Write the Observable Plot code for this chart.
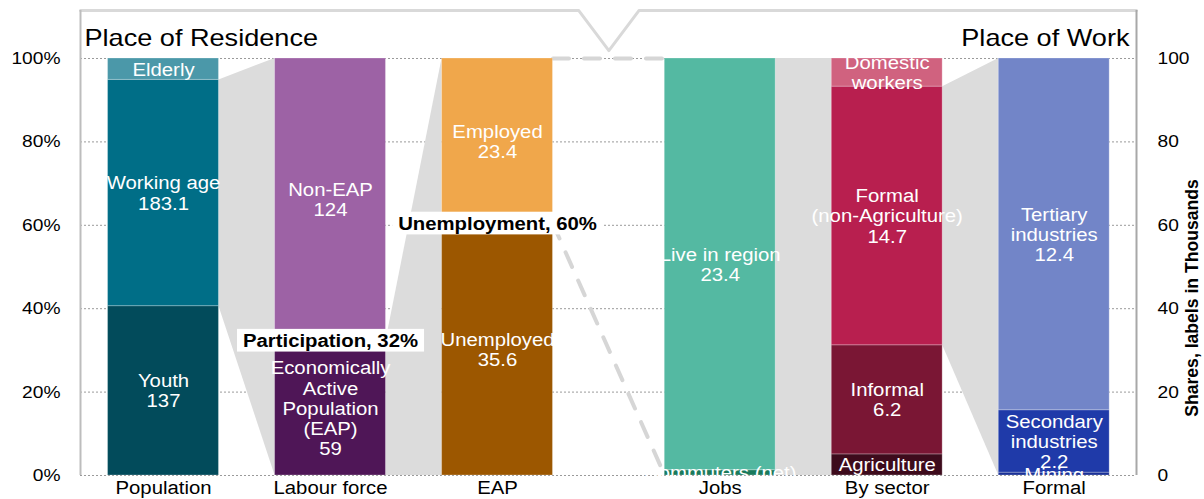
<!DOCTYPE html>
<html><head><meta charset="utf-8">
<script src="https://cdn.jsdelivr.net/npm/d3@7"></script>
<script src="https://cdn.jsdelivr.net/npm/@observablehq/plot@0.6"></script>
<style>
body{margin:0;background:#fff;}
</style></head><body><div id="chart"></div>
<script>
// ---------- data ----------
const categories = ["Population", "Labour force", "EAP", "Jobs", "By sector", "Formal"];

const populationLabels = ["Youth", "Working age", "Elderly"];
const populationValues = [137, 183.1, 17.3];
const populationShowValue = [true, true, false];
const populationColors = ["#024b5b", "#006e87", "#4b98a9"];

const labourLabels = ["Economically\nActive\nPopulation\n(EAP)", "Non-EAP"];
const labourValues = [59, 124];
const labourShowValue = [true, true];
const labourColors = ["#4f1657", "#9d62a5"];

const eapLabels = ["Unemployed", "Employed"];
const eapValues = [35.6, 23.4];
const eapShowValue = [true, true];
const eapColors = ["#9c5700", "#f0a74b"];

const jobsLabels = ["Commuters (net)", "Live in region"];
const jobsValues = [0.3, 23.4];
const jobsShowValue = [false, true];
const jobsColors = ["#1a7a5c", "#54b9a2"];

const sectorLabels = ["Agriculture", "Informal", "Formal\n(non-Agriculture)", "Domestic\nworkers"];
const sectorValues = [1.2, 6.2, 14.7, 1.6];
const sectorShowValue = [false, true, true, false];
const sectorColors = ["#3d0b1c", "#7a1634", "#b81f4f", "#d0627f"];

const formalLabels = ["Mining", "Secondary\nindustries", "Tertiary\nindustries"];
const formalValues = [0.1, 2.2, 12.4];
const formalShowValue = [false, true, true];
const formalColors = ["#1a3096", "#1f3aa9", "#7285c8"];

const yTicks = [0, 0.2, 0.4, 0.6, 0.8, 1];
const rightTickLabels = ["0", "20", "40", "60", "80", "100"];
const titleLeft = "Place of Residence";
const titleRight = "Place of Work";
const rightAxisTitle = "Shares, labels in Thousands";
const participationText = "Participation, 32%";
const unemploymentText = "Unemployment, 60%";

// ---------- layout helpers ----------
const xPos = categories.map((c, i) => i + (i >= 3 ? 1 / 3 : 0));
const half = 0.332;
const groups = [
  {labels: populationLabels, values: populationValues, show: populationShowValue, colors: populationColors},
  {labels: labourLabels, values: labourValues, show: labourShowValue, colors: labourColors},
  {labels: eapLabels, values: eapValues, show: eapShowValue, colors: eapColors},
  {labels: jobsLabels, values: jobsValues, show: jobsShowValue, colors: jobsColors},
  {labels: sectorLabels, values: sectorValues, show: sectorShowValue, colors: sectorColors},
  {labels: formalLabels, values: formalValues, show: formalShowValue, colors: formalColors}
];
const cum = groups.map(g => {
  const t = d3.sum(g.values); let a = 0;
  return [0, ...g.values.map(v => (a += v) / t)];
});
const segs = [];
groups.forEach((g, i) => {
  g.values.forEach((v, j) => {
    segs.push({
      x1: xPos[i] - half, x2: xPos[i] + half, xc: xPos[i],
      y1: cum[i][j], y2: cum[i][j + 1],
      fill: g.colors[j],
      text: g.show[j] ? g.labels[j] + "\n" + v : g.labels[j]
    });
  });
});
const R = i => xPos[i] + half, L = i => xPos[i] - half;
const connectors = [
  [{id: 0, x: R(0), y1: cum[0][1], y2: cum[0][2]}, {id: 0, x: L(1), y1: 0, y2: 1}],
  [{id: 1, x: R(1), y1: 0, y2: cum[1][1]}, {id: 1, x: L(2), y1: 0, y2: 1}],
  [{id: 2, x: R(3), y1: 0, y2: 1}, {id: 2, x: L(4), y1: 0, y2: 1}],
  [{id: 3, x: R(4), y1: cum[4][2], y2: cum[4][3]}, {id: 3, x: L(5), y1: 0, y2: 1}]
].flat();
const dashed = [
  {x1: R(2), y1: 1, x2: L(3), y2: 1},
  {x1: R(2), y1: cum[2][1], x2: L(3), y2: 0}
];
const xDomain = [-0.497, 5.826];
const topY = 1.115, notchY = 1.019;
const mid = (xPos[2] + xPos[3]) / 2;
const frameTop = [
  {x: xDomain[0], y: topY}, {x: mid - 0.18, y: topY}, {x: mid, y: notchY},
  {x: mid + 0.18, y: topY}, {x: xDomain[1], y: topY}
];

const plot = Plot.plot({
  width: 1204, height: 499,
  marginLeft: 80, marginRight: 68, marginTop: 58, marginBottom: 24,
  style: {fontFamily: "'Liberation Sans', Arial, sans-serif", background: "white", overflow: "visible"},
  x: {domain: xDomain, axis: null},
  y: {domain: [0, 1], axis: null},
  marks: [
    Plot.gridY(yTicks, {stroke: "#9a9a9a", strokeOpacity: 1, strokeDasharray: "2,2"}),
    Plot.area(connectors, {x1: "x", y1: "y1", y2: "y2", z: "id", fill: "#dcdcdc", curve: "linear"}),
    Plot.link(dashed, {x1: "x1", y1: "y1", x2: "x2", y2: "y2", stroke: "#d6d6d6", strokeWidth: 4, strokeDasharray: "16,15", strokeLinecap: "round"}),
    Plot.rect(segs, {x1: "x1", x2: "x2", y1: "y1", y2: "y2", fill: "fill", stroke: "white", strokeOpacity: 0.25, strokeWidth: 1}),
    Plot.line(frameTop, {x: "x", y: "y", stroke: "#d9d9d9", strokeWidth: 3, clip: false}),
    Plot.ruleX([xDomain[0]], {y1: 0, y2: topY, stroke: "#bdbdbd", strokeWidth: 2}),
    Plot.ruleX([xDomain[1]], {y1: 0, y2: topY, stroke: "#a8a8a8", strokeWidth: 2}),
    Plot.text(segs, {x: "xc", y: d => (d.y1 + d.y2) / 2, text: "text", fill: "white", fontSize: 18, lineHeight: 1.12}),
    Plot.text([participationText], {x: xPos[1], y: cum[1][1], fontWeight: "bold", fontSize: 18, fill: "black"}),
    Plot.text([unemploymentText], {x: xPos[2], y: cum[2][1], fontWeight: "bold", fontSize: 18, fill: "black"}),
    Plot.axisY(yTicks, {anchor: "left", tickSize: 0, tickPadding: 20, fontSize: 17, tickFormat: d3.format(".0%"), label: null}),
    Plot.axisY(yTicks, {anchor: "right", tickSize: 0, tickPadding: 21, fontSize: 17, tickFormat: d => rightTickLabels[yTicks.indexOf(d)], label: null}),
    Plot.axisX(xPos, {anchor: "bottom", tickSize: 0, tickPadding: 6, fontSize: 18, tickFormat: d => categories[xPos.indexOf(d)], label: null}),
    Plot.text([titleLeft], {frameAnchor: "top-left", dx: 4, dy: -13, lineAnchor: "bottom", fontSize: 24, fill: "black"}),
    Plot.text([titleRight], {frameAnchor: "top-right", dx: -7, dy: -13, lineAnchor: "bottom", textAnchor: "end", fontSize: 24, fill: "black"}),
    Plot.text([rightAxisTitle], {frameAnchor: "right", dx: 56, dy: 31, rotate: -90, textAnchor: "middle", fontWeight: "bold", fontSize: 17.6, fill: "black"})
  ]
});
document.getElementById("chart").appendChild(plot);

// horizontal stretch of the text to match the reference's proportions
plot.querySelectorAll("text").forEach(t => {
  const tr = t.getAttribute("transform") || "";
  if (tr.includes("rotate")) return;
  t.setAttribute("transform", (tr ? tr + " " : "") + "scale(1.13,1)");
});
// white boxes behind the two annotations
const s = plot.getBoundingClientRect();
plot.querySelectorAll("text").forEach(t => {
  const c = t.textContent;
  if (c !== participationText && c !== unemploymentText) return;
  const b = t.getBoundingClientRect();
  const r = document.createElementNS("http://www.w3.org/2000/svg", "rect");
  r.setAttribute("x", b.left - s.left - 6);
  r.setAttribute("y", b.top - s.top - 2);
  r.setAttribute("width", b.width + 12);
  r.setAttribute("height", b.height + 3);
  r.setAttribute("fill", "white");
  const g = t.parentNode;
  const ng = document.createElementNS("http://www.w3.org/2000/svg", "g");
  ng.appendChild(r);
  g.parentNode.insertBefore(ng, g);
});
</script></body></html>
